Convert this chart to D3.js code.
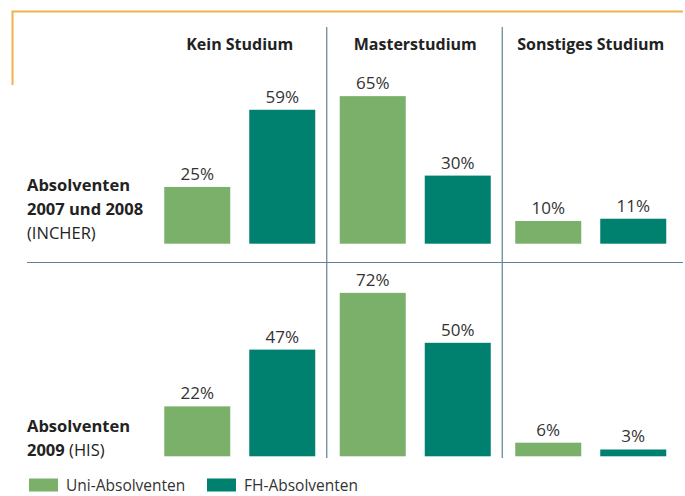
<!DOCTYPE html>
<html>
<head>
<meta charset="utf-8">
<script src="https://cdn.jsdelivr.net/npm/d3@7"></script>
<style>
  body { margin: 0; background: #fff; }
  text { font-family: "Open Sans", "Noto Sans", sans-serif; }
</style>
</head>
<body>
<div id="vis"></div>
<script>
// data
var categories = ["Kein Studium", "Masterstudium", "Sonstiges Studium"];
var series     = ["Uni-Absolventen", "FH-Absolventen"];
var rowLabels  = [
  [{ t: "Absolventen", b: true }, { t: "2007 und 2008", b: true }, { t: "(INCHER)", b: false }],
  [{ t: "Absolventen", b: true }, { t: "2009", b: true, rest: " (HIS)" }]
];
var uni0708 = [25, 65, 10];
var fh0708  = [59, 30, 11];
var uni2009 = [22, 72, 6];
var fh2009  = [47, 50, 3];

var colors = { "Uni-Absolventen": "#7ab06a", "FH-Absolventen": "#00806f" };
var lineCol = "#5f8294";

var width = 685, height = 496;

var svg = d3.select("#vis").append("svg")
  .attr("width", width)
  .attr("height", height);

// orange frame corner
svg.append("path")
  .attr("d", "M12.5,85 V11.5 H683")
  .attr("fill", "none")
  .attr("stroke", "#f0b34f")
  .attr("stroke-width", 2);

var x0 = d3.scaleBand().domain(categories).range([152.25, 678.75]);
var x1 = d3.scaleBand().domain(series).range([12, 163]).paddingInner(19 / 85);
var y  = d3.scaleLinear().domain([0, 100]).range([0, 227]);

var panels = [
  { base: 243.7, uni: uni0708, fh: fh0708 },
  { base: 456.3, uni: uni2009, fh: fh2009 }
];

// grid lines
svg.append("line")
  .attr("x1", 27).attr("x2", 683).attr("y1", 262.5).attr("y2", 262.5)
  .attr("stroke", lineCol).attr("stroke-width", 1.2);
categories.slice(1).forEach(function (c) {
  var xx = x0(c) - 1;
  svg.append("line")
    .attr("x1", xx).attr("x2", xx).attr("y1", 27).attr("y2", 458)
    .attr("stroke", lineCol).attr("stroke-width", 1.2);
});

// headers
svg.selectAll(".hdr").data(categories).enter().append("text")
  .attr("class", "hdr")
  .attr("x", function (d) { return x0(d) + 12 + 75.5; })
  .attr("y", 50)
  .attr("text-anchor", "middle")
  .style("font-size", "16px")
  .style("font-weight", "bold")
  .style("fill", "#222")
  .text(function (d) { return d; });

// bars
panels.forEach(function (p) {
  var rows = [];
  categories.forEach(function (c, i) {
    rows.push({ cat: c, s: series[0], v: p.uni[i] });
    rows.push({ cat: c, s: series[1], v: p.fh[i] });
  });
  var g = svg.append("g");
  g.selectAll("rect").data(rows).enter().append("rect")
    .attr("x", function (d) { return x0(d.cat) + x1(d.s); })
    .attr("width", x1.bandwidth())
    .attr("y", function (d) { return p.base - y(d.v); })
    .attr("height", function (d) { return y(d.v); })
    .attr("fill", function (d) { return colors[d.s]; });
  g.selectAll("text").data(rows).enter().append("text")
    .attr("x", function (d) { return x0(d.cat) + x1(d.s) + x1.bandwidth() / 2; })
    .attr("y", function (d) { return p.base - y(d.v) - 7; })
    .attr("text-anchor", "middle")
    .style("font-size", "17px")
    .style("fill", "#333")
    .text(function (d) { return d.v + "%"; });
});

// row labels
var rowY = [191, 432];
rowLabels.forEach(function (lines, r) {
  lines.forEach(function (l, i) {
    var t = svg.append("text")
      .attr("x", 27)
      .attr("y", rowY[r] + i * 24)
      .style("font-size", "16.5px")
      .style("fill", "#222");
    t.append("tspan")
      .style("font-weight", l.b ? "bold" : "normal")
      .text(l.t);
    if (l.rest) t.append("tspan").style("font-weight", "normal").text(l.rest);
  });
});

// legend
var leg = svg.selectAll(".leg").data(series).enter().append("g")
  .attr("class", "leg")
  .attr("transform", function (d, i) { return "translate(" + (29 + i * 178) + ",478.5)"; });
leg.append("rect")
  .attr("width", 29).attr("height", 13)
  .attr("fill", function (d) { return colors[d]; });
leg.append("text")
  .attr("x", 37).attr("y", 12.5)
  .style("font-size", "15.5px")
  .style("fill", "#333")
  .text(function (d) { return d; });
</script>
</body>
</html>
